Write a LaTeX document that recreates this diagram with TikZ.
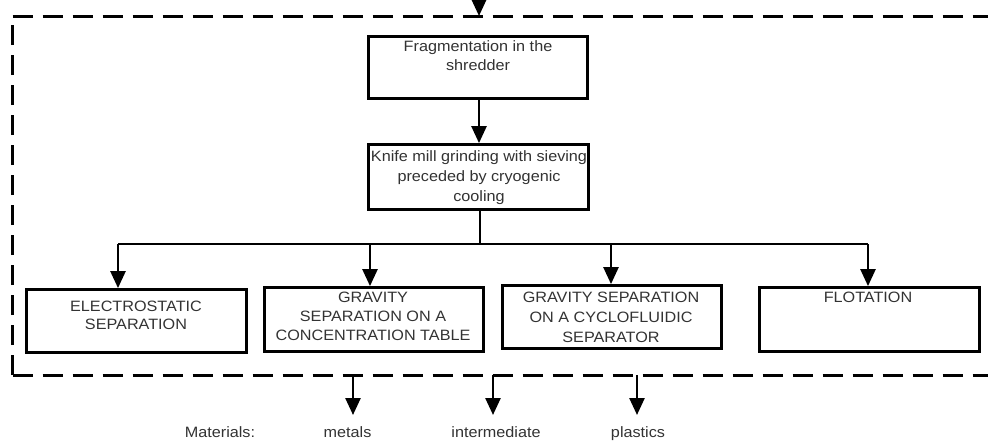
\documentclass[tikz,border=0pt]{standalone}
\usepackage{fontspec}
\setmainfont[FakeStretch=1.08]{Liberation Sans}
\usetikzlibrary{arrows.meta}
\tikzset{
  box/.style={draw=black, line width=2.8pt, inner sep=0pt, minimum width=#1},
  txt/.style={inner sep=0pt, align=center, text=black!80, font=\fontsize{15}{19}\selectfont},
  arr/.style={line width=2.5pt, -{Triangle[width=15pt,length=17pt]}},
  conn/.style={line width=2.5pt},
  dashline/.style={line width=3pt, dash pattern=on 20pt off 10pt}
}
\begin{document}
\begin{tikzpicture}[x=1pt,y=-1pt]
\useasboundingbox (0,0) rectangle (988,442);
\fill[white] (0,0) rectangle (988,442);
% dashed frame (right side outside the picture)
\coordinate (tl) at (12.7,16.7);
\coordinate (bl) at (12.7,375);
\coordinate (tr) at (1000,16.7);
\coordinate (br) at (1000,375);
\draw[dashline] (tl) -- (tr);
\draw[dashline] (bl) -- (tl);
\draw[dashline] (bl) -- (br);
% boxes
\node[box=219pt, minimum height=62pt] (frag) at (478,67.5) {};
\node[box=220pt, minimum height=65pt] (knife) at (478.5,177) {};
\node[box=220pt, minimum height=63pt] (elec) at (136.5,321) {};
\node[box=219pt, minimum height=64pt] (grav) at (374,319.5) {};
\node[box=219pt, minimum height=63pt] (cyclo) at (612,317) {};
\node[box=220pt, minimum height=64pt] (flot) at (869.5,319.5) {};
% texts
\node[txt, anchor=north] (fragt) at (478,40) {Fragmentation in the\\shredder};
\node[txt, anchor=north, font=\fontsize{15}{20}\selectfont] (knifet) at (479,150) {Knife mill grinding with sieving\\preceded by cryogenic\\cooling};
\node[txt, anchor=north, font=\fontsize{15}{18}\selectfont] (elect) at (136,301) {ELECTROSTATIC\\SEPARATION};
\node[txt, anchor=north] (gravt) at (373,292) {GRAVITY\\SEPARATION ON A\\CONCENTRATION TABLE};
\node[txt, anchor=north, font=\fontsize{15}{20}\selectfont] (cyclot) at (611,292) {GRAVITY SEPARATION\\ON A CYCLOFLUIDIC\\SEPARATOR};
\node[txt, anchor=north] (flott) at (868,292) {FLOTATION};
% labels
\node[txt, anchor=base] (mat) at (220,437) {Materials:};
\node[txt, anchor=base] (metals) at (347.5,437) {metals};
\node[txt, anchor=base] (inter) at (496,437) {intermediate};
\node[txt, anchor=base] (plast) at (638,437) {plastics};
% connectors
\coordinate (in0) at (479,0);
\coordinate (in1) at (479,16);
\draw[arr] (in0) -- (in1);
\draw[arr] (frag.south -| 479,0) -- (knife.north -| 479,0);
\coordinate (split) at (480,244);
\coordinate (b1) at (118,244);
\coordinate (b2) at (370,244);
\coordinate (b3) at (611,244);
\coordinate (b4) at (868,244);
\draw[conn] (knife.south -| split) -- (split);
\draw[conn] (b1) -- (b4);
\draw[arr] (b1) -- (b1 |- elec.north);
\draw[arr] (b2) -- (b2 |- grav.north);
\draw[arr] (b3) -- (b3 |- cyclo.north);
\draw[arr] (b4) -- (b4 |- flot.north);
\coordinate (o1) at (353,375);
\coordinate (o2) at (493,375);
\coordinate (o3) at (637,375);
\coordinate (e1) at (353,415);
\coordinate (e2) at (493,415);
\coordinate (e3) at (637,415);
\draw[arr] (o1) -- (e1);
\draw[arr] (o2) -- (e2);
\draw[arr] (o3) -- (e3);
\end{tikzpicture}
\end{document}
